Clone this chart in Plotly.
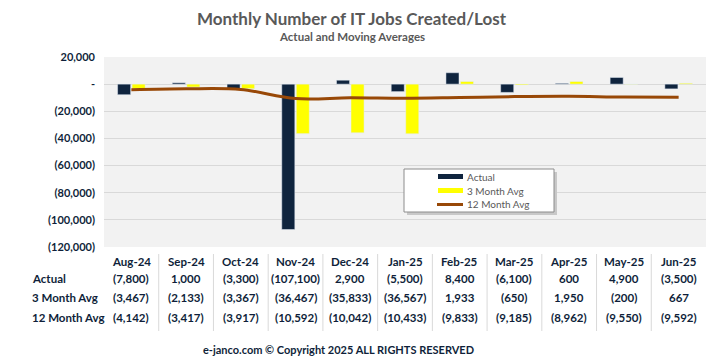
import plotly.graph_objects as go

months = ["Aug-24", "Sep-24", "Oct-24", "Nov-24", "Dec-24", "Jan-25",
          "Feb-25", "Mar-25", "Apr-25", "May-25", "Jun-25"]
actual = [-7800, 1000, -3300, -107100, 2900, -5500, 8400, -6100, 600, 4900, -3500]
avg3 = [-3467, -2133, -3367, -36467, -35833, -36567, 1933, -650, 1950, -200, 667]
avg12 = [-4142, -3417, -3917, -10592, -10042, -10433, -9833, -9185, -8962, -9550, -9592]
row_labels = ["Actual", "3 Month Avg", "12 Month Avg"]
ytick_vals = [20000, 0, -20000, -40000, -60000, -80000, -100000, -120000]

NAVY = "#0f243e"
YELLOW = "#ffff00"
BROWN = "#984807"


def fmt(v):
    if v == 0:
        return "-"
    s = f"{abs(v):,}"
    return f"({s})" if v < 0 else s


# plot area in pixels: left 104, right 706, top 57, bottom 247
def px(xp):
    return (xp - 104) / 602


def py(yp):
    return (247 - yp) / 190


FONT = "Lato"
TXT = "#0f1f3a"
fig = go.Figure()
fig.add_trace(go.Bar(x=months, y=actual, name="Actual", marker_color=NAVY))
fig.add_trace(go.Bar(x=months, y=avg3, name="3 Month Avg", marker_color=YELLOW))
fig.add_trace(go.Scatter(x=months, y=avg12, name="12 Month Avg", mode="lines",
                         line=dict(color=BROWN, width=3, shape="spline")))

ann = []
rows = [actual, avg3, avg12]
row_y = [py(278), py(297.5), py(317.5)]
for m in months:
    ann.append(dict(x=m, y=py(261), xref="x", yref="paper", text=f"<b>{m}</b>",
                    showarrow=False, font=dict(size=11.5, color=TXT, family=FONT)))
for lab, vals, yy in zip(row_labels, rows, row_y):
    ann.append(dict(x=px(30), y=yy, xref="paper", yref="paper", text=f"<b>{lab}</b>",
                    xanchor="left", showarrow=False,
                    font=dict(size=11.5, color=TXT, family=FONT)))
    for m, v in zip(months, vals):
        ann.append(dict(x=m, y=yy, xref="x", yref="paper", text=f"<b>{fmt(v)}</b>",
                        showarrow=False, font=dict(size=11.5, color=TXT, family=FONT)))
ann.append(dict(x=px(352), y=py(18), xref="paper", yref="paper", showarrow=False,
                text="<b>Monthly Number of IT Jobs Created/Lost</b>",
                font=dict(size=17, color="#595959", family=FONT)))
ann.append(dict(x=px(352), y=py(36), xref="paper", yref="paper", showarrow=False,
                text="<b>Actual and Moving Averages</b>",
                font=dict(size=11.5, color="#595959", family=FONT)))
ann.append(dict(x=px(338), y=py(349), xref="paper", yref="paper", showarrow=False,
                text="<b>e-janco.com © Copyright 2025 ALL RIGHTS RESERVED</b>",
                font=dict(size=11, color=TXT, family=FONT)))

# legend (drawn manually to match the wide swatches)
leg_items = [("Actual", 176.5), ("3 Month Avg", 190.5), ("12 Month Avg", 204)]
for name, yy in leg_items:
    ann.append(dict(x=px(465), y=py(yy), xref="paper", yref="paper", showarrow=False,
                    xanchor="left", text=name,
                    font=dict(size=10, color="#595959", family=FONT)))
for a in ann:
    a["yanchor"] = "middle"

shapes = []
for i in range(1, len(months)):
    shapes.append(dict(type="line", xref="x", yref="paper", x0=i - 0.5, x1=i - 0.5,
                       y0=py(254), y1=py(331), line=dict(color="#d9d9d9", width=1)))
# legend box + shadow
shapes.append(dict(type="rect", xref="paper", yref="paper", x0=px(407), x1=px(557),
                   y0=py(172), y1=py(215), line=dict(width=0), fillcolor="#c8c8c8",
                   layer="above"))
shapes.append(dict(type="rect", xref="paper", yref="paper", x0=px(404), x1=px(554),
                   y0=py(169), y1=py(212), line=dict(color="#8c8c8c", width=1),
                   fillcolor="white", layer="above"))
shapes.append(dict(type="rect", xref="paper", yref="paper", x0=px(438), x1=px(463),
                   y0=py(174), y1=py(179), line=dict(width=0), fillcolor=NAVY, layer="above"))
shapes.append(dict(type="rect", xref="paper", yref="paper", x0=px(438), x1=px(463),
                   y0=py(188), y1=py(193), line=dict(width=0), fillcolor=YELLOW, layer="above"))
shapes.append(dict(type="line", xref="paper", yref="paper", x0=px(437), x1=px(463),
                   y0=py(204.5), y1=py(204.5), line=dict(color=BROWN, width=3), layer="above"))

fig.update_layout(
    width=717, height=359,
    margin=dict(l=104, r=11, t=57, b=112),
    paper_bgcolor="white", plot_bgcolor="#f2f2f2",
    barmode="group", bargap=0.47, bargroupgap=0.1,
    font=dict(family=FONT, size=11, color=TXT),
    showlegend=False,
    annotations=ann, shapes=shapes,
    xaxis=dict(showticklabels=False, showgrid=False, zeroline=False, fixedrange=True),
    yaxis=dict(range=[-120000, 20000], tickvals=ytick_vals,
               ticktext=[f"<b>{fmt(v)}</b>" for v in ytick_vals],
               gridcolor="#d9d9d9", gridwidth=1, zeroline=False,
               ticklabelstandoff=8,
               tickfont=dict(size=11, color=TXT, family=FONT), ticks=""),
)
fig.write_html("out.html", config={"displayModeBar": False},
               post_script="document.body.style.margin='0';document.body.style.padding='0';")
